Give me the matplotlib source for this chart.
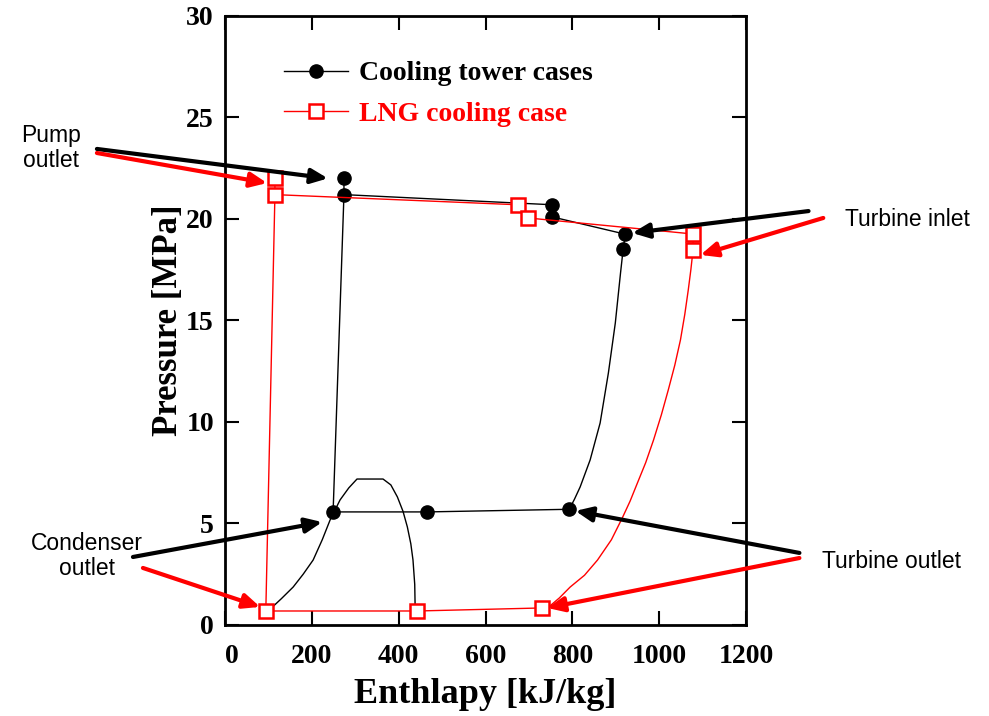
import matplotlib
matplotlib.use("Agg")
from matplotlib import pyplot as plt

# cooling tower case: cycle path (enthalpy kJ/kg, pressure MPa)
ct_h = [274, 274, 754, 754, 922, 917, 911, 899, 883, 864, 841, 818, 805, 793, 465, 249, 274]
ct_p = [22.0, 21.2, 20.7, 20.1, 19.25, 18.5, 17.34, 14.88, 12.41, 9.95, 8.13, 6.80, 6.2, 5.70, 5.57, 5.57, 21.2]
ct_marks = [0, 1, 2, 3, 4, 5, 13, 14, 15]

# LNG cooling case
lng_h = [115, 115, 675, 698, 1078, 1078, 1073, 1067, 1059, 1049, 1036, 1021, 1005, 987, 969,
         950, 933, 915, 890, 858, 828, 795, 770, 749, 731, 443, 94, 115]
lng_p = [22.0, 21.2, 20.7, 20.05, 19.26, 18.47, 17.5, 16.50, 15.3, 14.04, 12.8, 11.58, 10.35, 9.11, 8.0,
         7.00, 6.1, 5.27, 4.2, 3.20, 2.45, 1.87, 1.33, 0.95, 0.84, 0.69, 0.69, 21.2]
lng_marks = [0, 1, 2, 3, 4, 5, 24, 25, 26]

# saturation dome
dome_h = [105, 130, 157, 180, 203, 224, 242, 265, 285, 304, 364, 382, 397, 410, 420, 428, 433, 437, 438]
dome_p = [0.8, 1.3, 1.87, 2.5, 3.20, 4.2, 5.17, 6.16, 6.75, 7.19, 7.19, 6.9, 6.31, 5.6, 4.83, 4.0, 3.20, 2.0, 0.8]

x_ticks = [0, 200, 400, 600, 800, 1000, 1200]
y_ticks = [0, 5, 10, 15, 20, 25, 30]

# arrows: colour, tip (h, p), start (h, p)
arrows = [
    ("k", (237, 22.0), (-295, 23.45)),
    ("r", (97, 21.77), (-295, 23.25)),
    ("k", (938, 19.31), (1344, 20.39)),
    ("r", (1095, 18.23), (1378, 20.05)),
    ("k", (224, 5.07), (-212, 3.35)),
    ("r", (81, 0.89), (-189, 2.81)),
    ("k", (807, 5.62), (1323, 3.55)),
    ("r", (742, 0.84), (1323, 3.30)),
]
notes = [
    ("Pump\noutlet", 51, 148),
    ("Turbine inlet", 907, 219),
    ("Condenser\noutlet", 87, 556),
    ("Turbine outlet", 891, 561),
]

serif = "Liberation Serif"
sans = "Liberation Sans"

fig = plt.figure(figsize=(9.89, 7.16), dpi=100)
ax = fig.add_axes([0.2275, 0.1271, 0.5268, 0.8506])

ax.plot(dome_h, dome_p, color="black", lw=1.0)
ax.plot(ct_h, ct_p, color="black", lw=1.0, marker="o", markersize=9.5,
        markevery=ct_marks, label="Cooling tower cases")
ax.plot(lng_h, lng_p, color="red", lw=1.0, marker="s", markersize=9.5,
        markerfacecolor="white", markeredgewidth=1.8, markevery=lng_marks,
        label="LNG cooling case")

for color, tip, start in arrows:
    ax.annotate("", xy=tip, xytext=start, annotation_clip=False,
                arrowprops=dict(arrowstyle="-|>,head_length=0.5,head_width=0.22",
                                lw=3, color=color, mutation_scale=20,
                                shrinkA=0, shrinkB=0), zorder=5)

for text, px, py in notes:
    fig.text(px / 989, 1 - py / 716, text, ha="center", va="center",
             fontsize=16.5, family=sans, linespacing=1.1)

ax.set_xlim(0, 1200)
ax.set_ylim(0, 30)
ax.set_xticks(x_ticks)
ax.set_yticks(y_ticks)
ax.tick_params(direction="in", length=10, width=1.5, top=True, right=True,
               labelsize=20, pad=8)
ax.tick_params(axis="x", pad=14)
for lab in ax.get_xticklabels() + ax.get_yticklabels():
    lab.set_family(serif)
    lab.set_fontweight("bold")
ax.get_xticklabels()[0].set_ha("left")
for sp in ax.spines.values():
    sp.set_linewidth(2)

ax.set_xlabel("Enthlapy [kJ/kg]", family=serif, fontweight="bold", fontsize=26, labelpad=6)
ax.set_ylabel("Pressure [MPa]", family=serif, fontweight="bold", fontsize=25, labelpad=1)

leg = ax.legend(loc="upper left", bbox_to_anchor=(284 / 989, 1 - 61 / 716),
                bbox_transform=fig.transFigure, frameon=False, borderpad=0,
                borderaxespad=0, handlelength=2.3, handletextpad=0.4,
                labelspacing=0.55, prop=dict(family=serif, weight="bold", size=20))
for txt, c in zip(leg.get_texts(), ["black", "red"]):
    txt.set_color(c)

fig.savefig("out.png", dpi=100)
